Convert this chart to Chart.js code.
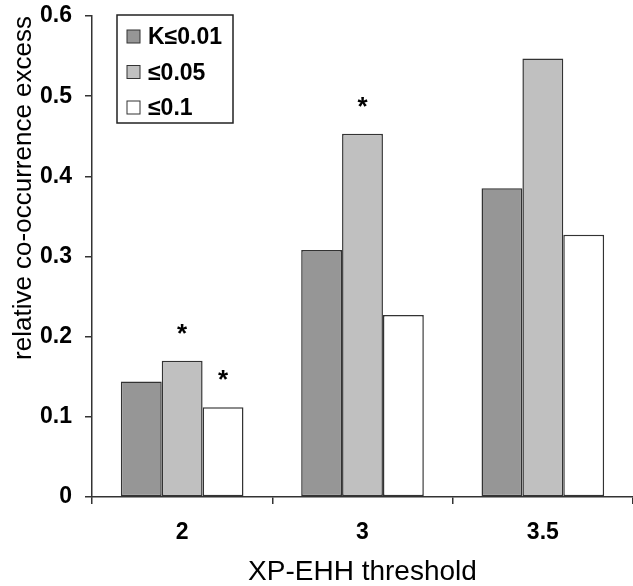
<!DOCTYPE html>
<html>
<head>
<meta charset="utf-8">
<script src="https://cdn.jsdelivr.net/npm/chart.js@4/dist/chart.umd.min.js"></script>
<style>
html,body{margin:0;padding:0;background:#fff;}
canvas{display:block;}
</style>
</head>
<body>
<canvas id="c" width="633" height="586"></canvas>
<script>
const categories = ['2', '3', '3.5'];
const seriesNames = ['K\u22640.01', '\u22640.05', '\u22640.1'];
const valuesK001 = [0.144, 0.308, 0.385];
const valuesK005 = [0.170, 0.453, 0.547];
const valuesK01 = [0.112, 0.227, 0.327];
const starsK001 = [false, false, false];
const starsK005 = [true, true, false];
const starsK01 = [true, false, false];
const yTickLabels = ['0', '0.1', '0.2', '0.3', '0.4', '0.5', '0.6'];
const xTitle = 'XP-EHH threshold';
const yTitle = 'relative co-occurrence excess';

const fills = ['#969696', '#c0c0c0', '#ffffff'];
const edge = '#333333';
const FONT = "'Liberation Sans', Arial, sans-serif";

const starPlugin = {
  id: 'stars',
  afterDatasetsDraw(chart) {
    const ctx = chart.ctx;
    const flags = [starsK001, starsK005, starsK01];
    ctx.save();
    ctx.fillStyle = '#000';
    ctx.font = 'bold 26px ' + FONT;
    ctx.textAlign = 'center';
    ctx.textBaseline = 'alphabetic';
    flags.forEach((arr, di) => {
      const meta = chart.getDatasetMeta(di);
      arr.forEach((f, i) => {
        if (!f) return;
        const el = meta.data[i];
        ctx.fillText('*', el.x, el.y - 19);
      });
    });
    ctx.restore();
  }
};

const legendPlugin = {
  id: 'boxLegend',
  afterDraw(chart) {
    const ctx = chart.ctx;
    const a = chart.chartArea;
    const x0 = a.left + 25, y0 = a.top - 1, w = 116, h = 108;
    ctx.save();
    ctx.fillStyle = '#fff';
    ctx.fillRect(x0, y0, w, h);
    ctx.strokeStyle = '#222';
    ctx.lineWidth = 1.5;
    ctx.strokeRect(x0, y0, w, h);
    ctx.font = 'bold 23px ' + FONT;
    ctx.textBaseline = 'middle';
    ctx.textAlign = 'left';
    seriesNames.forEach((name, i) => {
      const cy = y0 + 22 + i * 35.5;
      ctx.fillStyle = fills[i];
      ctx.fillRect(x0 + 10, cy - 7, 13, 13);
      ctx.strokeStyle = edge;
      ctx.lineWidth = 1;
      ctx.strokeRect(x0 + 10, cy - 7, 13, 13);
      ctx.fillStyle = '#000';
      ctx.fillText(name, x0 + 31, cy + 1);
    });
    ctx.restore();
  }
};

const datasets = [valuesK001, valuesK005, valuesK01].map((vals, i) => ({
  label: seriesNames[i],
  data: vals,
  backgroundColor: fills[i],
  borderColor: edge,
  borderWidth: 1.5,
  borderSkipped: false,
  categoryPercentage: 0.68,
  barPercentage: 1.0
}));

new Chart(document.getElementById('c'), {
  type: 'bar',
  data: { labels: categories, datasets },
  plugins: [starPlugin, legendPlugin],
  options: {
    responsive: false,
    animation: false,
    devicePixelRatio: 1,
    layout: { padding: { top: 16, right: -3, left: 0, bottom: 0 } },
    plugins: { legend: { display: false }, tooltip: { enabled: false } },
    scales: {
      x: {
        afterFit(s) { s.height = 89; },
        grid: { display: true, drawOnChartArea: false, offset: true, tickLength: 7, color: edge, lineWidth: 1.5 },
        border: { display: true, color: edge, width: 1.5 },
        ticks: { color: '#000', font: { family: FONT, size: 23, weight: 'bold' }, padding: 15, maxRotation: 0 },
        title: { display: true, text: xTitle, color: '#000', font: { family: FONT, size: 28, lineHeight: 1 }, padding: { top: 0, bottom: 0 } }
      },
      y: {
        min: 0, max: 0.6,
        afterFit(s) { s.width = 92; s.paddingTop = 0; s.paddingBottom = 0; },
        grid: { display: true, drawOnChartArea: false, tickLength: 7, color: edge, lineWidth: 1.5 },
        border: { display: true, color: edge, width: 1.5 },
        ticks: {
          stepSize: 0.1, color: '#000', padding: 13,
          font: { family: FONT, size: 23, weight: 'bold' },
          callback: (v) => yTickLabels[Math.round(v * 10)]
        },
        title: { display: true, text: yTitle, align: 'end', color: '#000', font: { family: FONT, size: 26, lineHeight: 1 }, padding: { top: 11, bottom: 0 } }
      }
    }
  }
});
</script>
</body>
</html>
